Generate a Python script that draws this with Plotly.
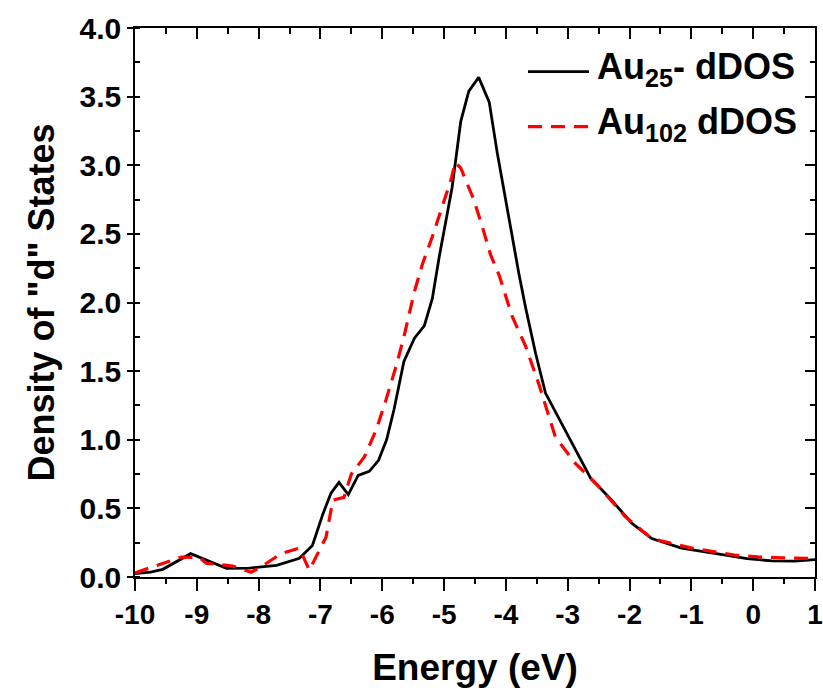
import plotly.graph_objects as go

# d-band density of states, Au25- cluster
energy_au25 = [-10.0, -9.75, -9.55, -9.10, -8.52, -8.15, -7.71, -7.34, -7.13, -6.96,
               -6.83, -6.70, -6.55, -6.39, -6.21, -6.06, -5.93, -5.81, -5.65, -5.48,
               -5.32, -5.19, -5.08, -4.87, -4.73, -4.60, -4.44, -4.27, -4.14, -3.95,
               -3.79, -3.68, -3.52, -3.36, -3.04, -2.63, -2.31, -1.96, -1.64, -1.16,
               -0.42, -0.10, 0.30, 0.67, 1.0]
dos_au25 = [0.025, 0.035, 0.056, 0.17, 0.063, 0.065, 0.085, 0.136, 0.23, 0.46,
            0.61, 0.69, 0.60, 0.74, 0.77, 0.85, 1.00, 1.22, 1.57, 1.74,
            1.83, 2.03, 2.33, 2.84, 3.32, 3.54, 3.64, 3.46, 3.09, 2.60,
            2.21, 1.96, 1.63, 1.34, 1.07, 0.72, 0.57, 0.39, 0.28, 0.21,
            0.158, 0.134, 0.117, 0.115, 0.127]

# d-band density of states, Au102 cluster
energy_au102 = [-10.0, -9.63, -9.25, -8.95, -8.85, -8.42, -8.12, -7.94, -7.64, -7.34,
                -7.18, -6.91, -6.80, -6.62, -6.50, -6.29, -6.10, -5.94, -5.78, -5.65,
                -5.48, -5.35, -5.19, -5.03, -4.89, -4.82, -4.73, -4.65, -4.52, -4.38,
                -4.25, -4.11, -3.98, -3.90, -3.68, -3.47, -3.20, -2.88, -2.50, -2.07,
                -1.64, -0.99, -0.30, 0.08, 0.46, 0.86, 1.0]
dos_au102 = [0.03, 0.085, 0.145, 0.14, 0.10, 0.08, 0.035, 0.08, 0.17, 0.21,
             0.05, 0.29, 0.56, 0.58, 0.75, 0.875, 1.07, 1.29, 1.53, 1.75,
             2.08, 2.28, 2.48, 2.70, 2.89, 3.02, 2.98, 2.89, 2.75, 2.55,
             2.35, 2.20, 2.02, 1.90, 1.68, 1.41, 1.02, 0.83, 0.66, 0.44,
             0.28, 0.21, 0.16, 0.146, 0.14, 0.134, 0.135]

series_names = ["Au<sub>25</sub>- dDOS", "Au<sub>102</sub> dDOS"]
x_ticks = list(range(-10, 2))
x_tick_labels = [str(v) for v in x_ticks]          # plain hyphen minus
y_ticks = [0.0, 0.5, 1.0, 1.5, 2.0, 2.5, 3.0, 3.5, 4.0]
y_tick_labels = [f"{v:.1f}" for v in y_ticks]

FONT = "Liberation Sans, Arial, sans-serif"
W, H = 823, 688
M = dict(l=135, r=8, t=28, b=111)
PW = W - M["l"] - M["r"]
PH = H - M["t"] - M["b"]


def px(xp):
    return (xp - M["l"]) / PW


def py(yp):
    return (H - M["b"] - yp) / PH


def bold(size):
    return dict(family=FONT, size=size, color="black", weight="bold")


fig = go.Figure()
fig.add_trace(go.Scatter(x=energy_au25, y=dos_au25, mode="lines",
                         line=dict(color="black", width=2.8),
                         name=series_names[0], showlegend=False))
fig.add_trace(go.Scatter(x=energy_au102, y=dos_au102, mode="lines",
                         line=dict(color="#ff0000", width=3.2, dash="14px,9px"),
                         name=series_names[1], showlegend=False))
# empty trace carrying the mirrored top/right axes
fig.add_trace(go.Scatter(x=[], y=[], xaxis="x2", yaxis="y2", showlegend=False,
                         hoverinfo="skip"))

common = dict(showgrid=False, zeroline=False, showline=True, linecolor="black",
              linewidth=1.5, tickcolor="black", tickwidth=1.5, automargin=False)

fig.update_layout(
    width=W, height=H, margin=M,
    paper_bgcolor="white", plot_bgcolor="white",
    xaxis=dict(range=[-10, 1], tickvals=x_ticks, ticktext=x_tick_labels,
               ticks="outside", ticklen=12, ticklabeloverflow="allow",
               minor=dict(dtick=0.5, ticks="outside", ticklen=5,
                          tickcolor="black", tickwidth=1.5),
               tickfont=bold(28),
               title=dict(text="Energy (eV)", standoff=26, font=bold(37)),
               **common),
    yaxis=dict(range=[0, 4], tickvals=y_ticks, ticktext=y_tick_labels,
               ticks="outside", ticklen=6,
               minor=dict(dtick=0.25, ticks="inside", ticklen=5,
                          tickcolor="black", tickwidth=1.5),
               tickfont=bold(30),
               title=dict(text='Density of "d" States', standoff=14,
                          font=bold(36)),
               **common),
    xaxis2=dict(range=[-10, 1], overlaying="x", side="top", ticks="inside",
                tickvals=x_ticks, ticklen=11, showticklabels=False,
                minor=dict(dtick=0.5, ticks="inside", ticklen=6,
                           tickcolor="black", tickwidth=1.5),
                **common),
    yaxis2=dict(range=[0, 4], overlaying="y", side="right", ticks="inside",
                tickvals=y_ticks, ticklen=10, showticklabels=False,
                minor=dict(dtick=0.25, ticks="inside", ticklen=5,
                           tickcolor="black", tickwidth=1.5),
                **common),
)

# legend drawn as line samples plus labels
legend_rows = [(71.7, dict(color="black", width=2.8)),
               (126.7, dict(color="#ff0000", width=3.2, dash="14px,9px"))]
for (yp, ln), label in zip(legend_rows, series_names):
    fig.add_shape(type="line", xref="paper", yref="paper",
                  x0=px(528), x1=px(589), y0=py(yp), y1=py(yp), line=ln)
    fig.add_annotation(xref="paper", yref="paper", x=px(595), y=py(yp - 3),
                       xanchor="left", yanchor="middle", showarrow=False,
                       text=label, font=bold(36))

fig.write_html("out.html")
